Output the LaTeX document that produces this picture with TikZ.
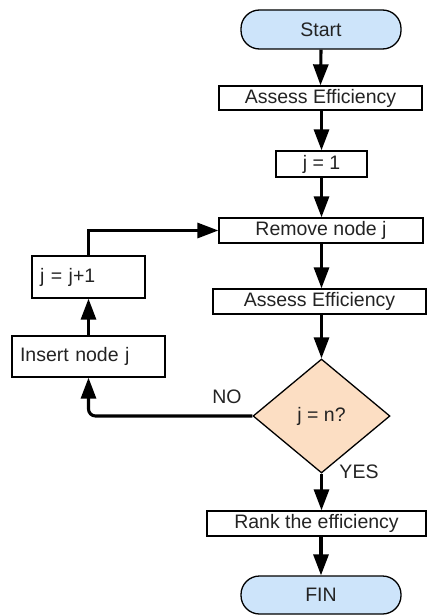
\documentclass[tikz,border=0pt]{standalone}
\usepackage{fontspec}
\setmainfont{Liberation Sans}
\usetikzlibrary{arrows.meta,shapes.geometric}
\definecolor{termblue}{RGB}{205,228,250}
\definecolor{peach}{RGB}{252,222,195}
\definecolor{txt}{RGB}{35,35,35}
\begin{document}
\begin{tikzpicture}[x=1pt,y=-1pt,
  base/.style={draw=black,line width=1.3pt,inner sep=0pt,text=txt,
    font=\fontsize{19.5}{23}\selectfont},
  procbox/.style={base,rectangle},
  leftbox/.style={base,rectangle,align=left,inner xsep=8pt},
  term/.style={base,rectangle,rounded corners=18.5pt,fill=termblue,minimum width=160pt},
  decision/.style={base,diamond,fill=peach,minimum width=137pt,minimum height=114pt},
  lbl/.style={text=txt,font=\fontsize{19.5}{23}\selectfont,inner sep=0pt},
  arr/.style={line width=3.1pt,-{Triangle[length=21pt,width=15pt]}}]
\useasboundingbox (0,0) rectangle (427,615);

\node[term,minimum height=39pt] (start) at (321,29.5) {Start};
\node[procbox,minimum width=203pt,minimum height=24pt] (ae1) at (320.5,98) {Assess Efficiency};
\node[procbox,minimum width=91pt,minimum height=26pt] (j1) at (321.5,164) {j = 1};
\node[procbox,minimum width=204pt,minimum height=25pt] (rem) at (321,230.5) {Remove node j};
\node[procbox,minimum width=213pt,minimum height=25pt] (ae2) at (319.5,301.5) {Assess Efficiency};
\node[decision] (dia) at (321.5,416) {j = n?};
\node[leftbox,text width=97pt,minimum height=42pt] (jj) at (88.5,277) {j = j+1};
\node[leftbox,text width=137pt,minimum height=41pt] (ins) at (88.5,356.5) {Insert node j};
\node[procbox,minimum width=219pt,minimum height=25pt] (rank) at (316.5,523.5) {Rank the efficiency};
\node[term,minimum height=38pt] (fin) at (321,595) {FIN};

\node[lbl] (no) at (227,397) {NO};
\node[lbl] (yes) at (359,472) {YES};

\draw[arr] (start.south) -- (ae1.north);
\draw[arr] (ae1.south -| j1.north) -- (j1.north);
\draw[arr] (j1.south) -- (rem.north -| j1.south);
\draw[arr] (rem.south -| dia.north) -- (ae2.north -| dia.north);
\draw[arr] (ae2.south -| dia.north) -- (dia.north);
\draw[arr] (dia.south) -- (rank.north -| dia.south);
\draw[arr] (rank.south -| fin.north) -- (fin.north);
\draw[arr,rounded corners=7pt] (dia.west) -| (ins.south);
\draw[arr] (ins.north) -- (jj.south);
\draw[arr] (jj.north) |- (rem.west);
\end{tikzpicture}
\end{document}
